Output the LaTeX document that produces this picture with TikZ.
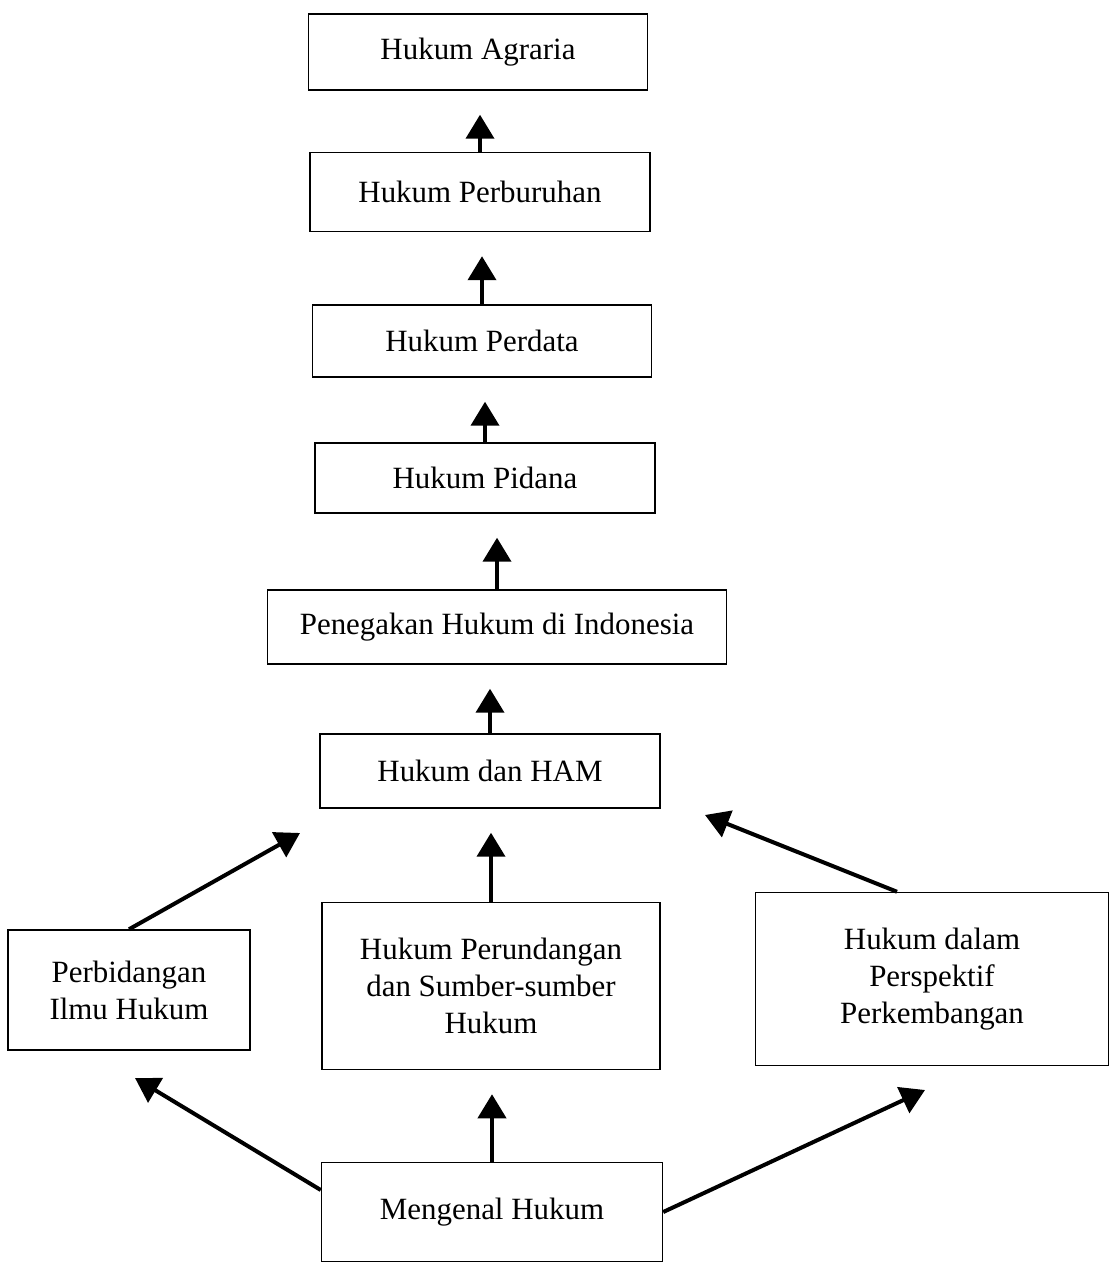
\documentclass[tikz,border=0pt]{standalone}
\usepackage{fontspec}
\setmainfont{Liberation Serif}
\usetikzlibrary{arrows.meta,calc}

\begin{document}
\begin{tikzpicture}[x=0.025cm,y=-0.025cm,
    kotak/.style={draw,line width=1pt,inner sep=0pt,align=center,font=\fontsize{22}{26.3}\selectfont},
    panah/.style={line width=0.1cm,-{Triangle[width=0.7cm,length=0.6cm]}},
    naik/.style={panah,shorten >=0.6cm}]
  \useasboundingbox (0,0) rectangle (1110,1262);
  % kolom tengah
  \node[kotak,minimum width=8.475cm,minimum height=1.9cm] (agraria) at (478,52) {Hukum Agraria};
  \node[kotak,minimum width=8.5cm,minimum height=1.975cm] (buruh) at (480,192) {Hukum Perburuhan};
  \node[kotak,minimum width=8.475cm,minimum height=1.8cm] (perdata) at (482,341) {Hukum Perdata};
  \node[kotak,minimum width=8.5cm,minimum height=1.75cm] (pidana) at (485,478) {Hukum Pidana};
  \node[kotak,minimum width=11.475cm,minimum height=1.85cm] (tegak) at (497,627) {Penegakan Hukum di Indonesia};
  \node[kotak,minimum width=8.5cm,minimum height=1.85cm] (ham) at (490,771) {Hukum dan HAM};
  % baris bawah
  \node[kotak,minimum width=6.05cm,minimum height=3cm] (bidang) at (129,990) {Perbidangan\\Ilmu Hukum};
  \node[kotak,minimum width=8.45cm,minimum height=4.175cm] (undang) at (491,986) {Hukum Perundangan\\dan Sumber-sumber\\Hukum};
  \node[kotak,minimum width=8.825cm,minimum height=4.325cm] (spektif) at (932,979) {Hukum dalam\\Perspektif\\Perkembangan};
  \node[kotak,minimum width=8.525cm,minimum height=2.475cm] (kenal) at (492,1212) {Mengenal Hukum};
  % ujung panah miring
  \coordinate (hamkiri) at (300,833);
  \coordinate (hamkanan) at (705,815);
  \coordinate (bidangbawah) at (135,1078);
  \coordinate (spektifbawah) at (925,1090);
  % panah
  \draw[naik] (buruh.north) -- (buruh.north |- agraria.south);
  \draw[naik] (perdata.north) -- (perdata.north |- buruh.south);
  \draw[naik] (pidana.north) -- (pidana.north |- perdata.south);
  \draw[naik] (tegak.north) -- (tegak.north |- pidana.south);
  \draw[naik] (ham.north) -- (ham.north |- tegak.south);
  \draw[naik] (undang.north) -- (undang.north |- ham.south);
  \draw[naik] (kenal.north) -- (kenal.north |- undang.south);
  \draw[panah] (bidang.north) -- (hamkiri);
  \draw[panah] ([xshift=-0.875cm]spektif.north) -- (hamkanan);
  \draw[panah] ([yshift=0.55cm]kenal.west) -- (bidangbawah);
  \draw[panah] (kenal.east) -- (spektifbawah);
\end{tikzpicture}
\end{document}
